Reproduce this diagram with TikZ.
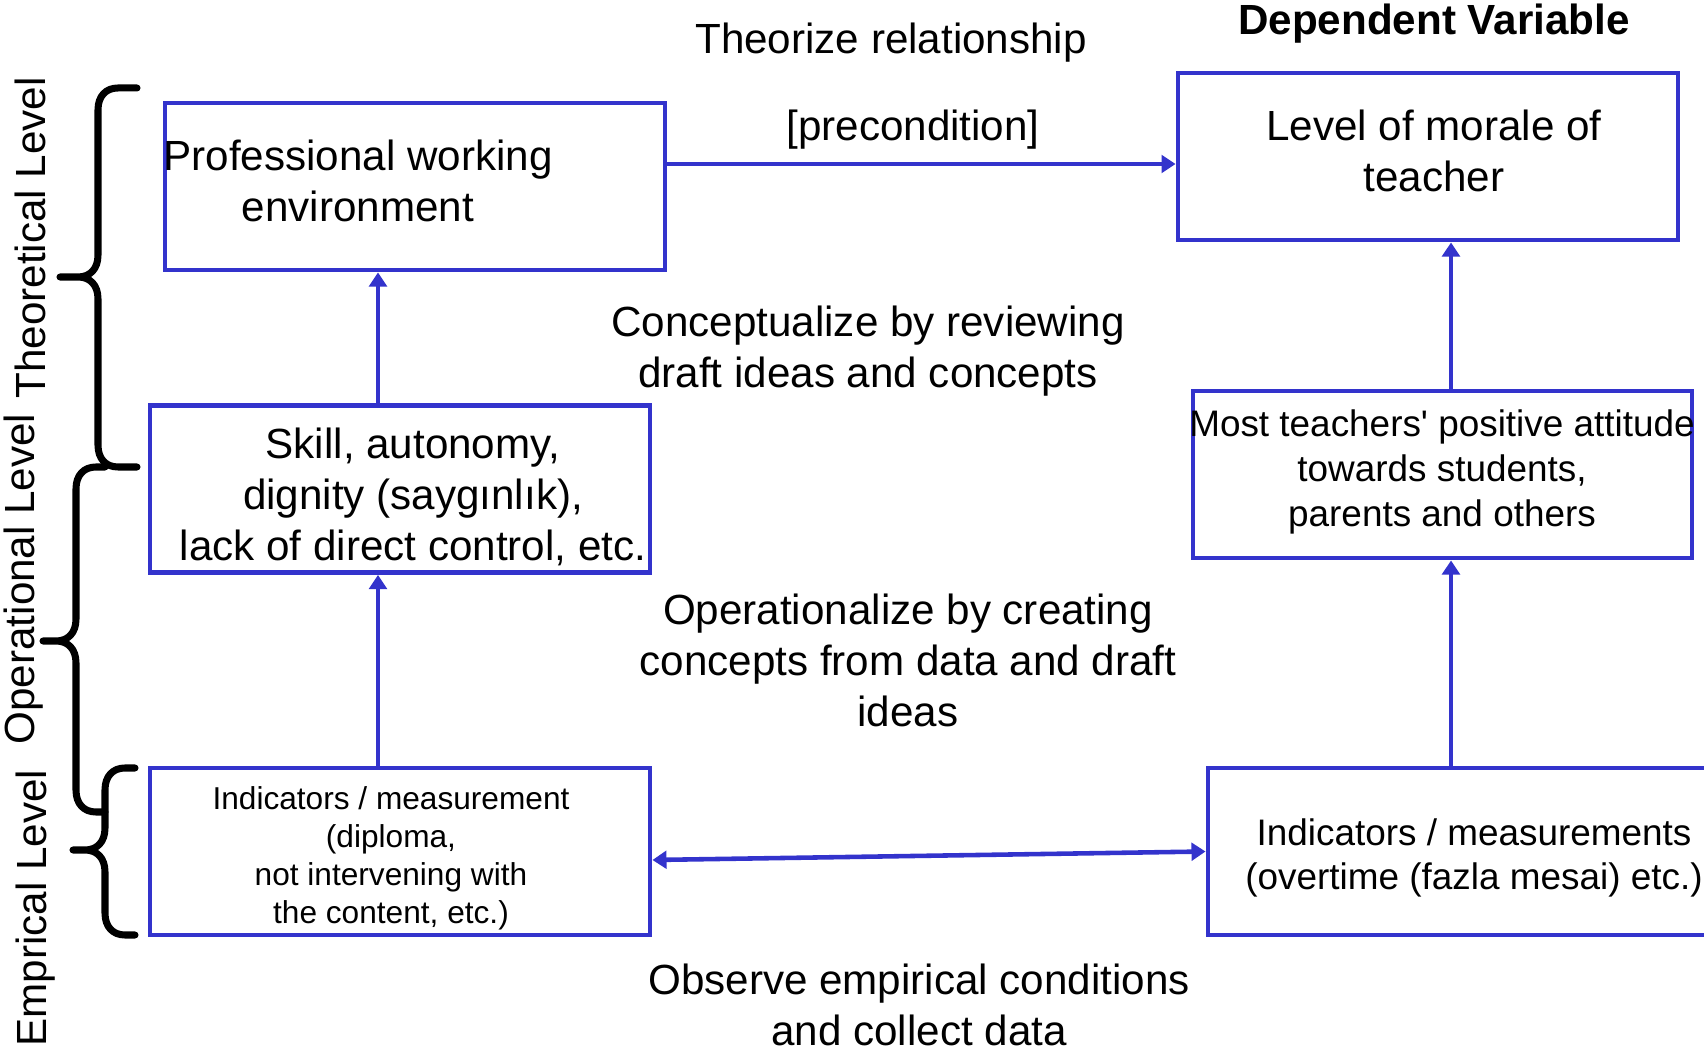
\documentclass[tikz,border=0pt]{standalone}
\usepackage{fontspec}
\setmainfont{Liberation Sans}
\usetikzlibrary{arrows.meta}
\definecolor{linkblue}{RGB}{51,51,204}

\begin{document}
\begin{tikzpicture}
	\tikzstyle{box} = [draw=linkblue, line width=1.4pt, inner sep=0pt, minimum height=1.67cm]
	\tikzstyle{txt} = [align=center, inner sep=0pt, font=\fontsize{12}{14.5}\selectfont]
	\tikzstyle{small} = [align=center, inner sep=0pt, font=\fontsize{9}{10.8}\selectfont]
	\tikzstyle{mid} = [align=center, inner sep=0pt, font=\fontsize{10.5}{12.7}\selectfont]
	\tikzstyle{link} = [draw=linkblue, line width=1.3pt, -{Triangle[length=4pt,width=5pt]}]
	\tikzstyle{curly} = [draw, line width=2pt, line join=round, line cap=round]
	\useasboundingbox (0,0) rectangle (17.04,-10.52);
	\clip (0,0) rectangle (17.04,-10.52);
	\coordinate (colL) at (3.78,0);
	\coordinate (colR) at (14.51,0);
	\node[box, minimum width=5cm] (P) at (4.15,-1.865) {};
	\node[box, minimum width=5cm] (S) at (4.00,-4.89) {};
	\node[box, minimum width=5cm] (I1) at (4.00,-8.515) {};
	\node[box, minimum width=5cm] (L) at (14.28,-1.565) {};
	\node[box, minimum width=4.99cm] (M) at (14.425,-4.745) {};
	\node[box, minimum width=5.52cm] (I2) at (14.84,-8.515) {};
	\node[txt] (Ptext) at (3.58,-1.81) {Professional working\\environment};
	\node[txt] (Stext) at (4.13,-4.97) {Skill, autonomy,\\dignity (saygınlık),\\lack of direct control, etc.};
	\node[small] (I1text) at (3.91,-8.58) {Indicators / measurement\\(diploma,\\not intervening with\\the content, etc.)};
	\node[txt] (Ltext) at (14.34,-1.51) {Level of morale of\\teacher};
	\node[mid] (Mtext) at (14.42,-4.72) {Most teachers\textquotesingle{} positive attitude\\towards students,\\parents and others};
	\node[mid] (I2text) at (14.74,-8.58) {Indicators / measurements\\(overtime (fazla mesai) etc.)};
	\node[txt] (theorize) at (8.91,-0.43) {Theorize relationship};
	\node[txt, font=\fontsize{12}{14.5}\selectfont\bfseries] (dep) at (14.34,-0.24) {Dependent Variable};
	\node[txt] (precond) at (9.13,-1.30) {[precondition]};
	\node[txt] (concept) at (8.68,-3.51) {Conceptualize by reviewing\\draft ideas and concepts};
	\node[txt] (oper) at (9.08,-6.60) {Operationalize by creating\\concepts from data and draft\\ideas};
	\node[txt] (observe) at (9.19,-10.05) {Observe empirical conditions\\and collect data};
	\node[txt, rotate=90] (theo) at (0.30,-2.38) {Theoretical Level};
	\node[txt, rotate=90] (opl) at (0.24,-5.79) {Operational Level};
	\node[txt, rotate=90] (emp) at (0.36,-9.08) {Emprical Level};
	\draw[curly] (1.37,-0.88) -- (1.18,-0.88) .. controls (1.06,-0.88) and (0.98,-0.96) .. (0.98,-1.10) -- (0.98,-2.55) .. controls (0.98,-2.69) and (0.90,-2.77) .. (0.78,-2.77) -- (0.60,-2.77) -- (0.78,-2.77) .. controls (0.90,-2.77) and (0.98,-2.85) .. (0.98,-2.99) -- (0.98,-4.45) .. controls (0.98,-4.59) and (1.06,-4.67) .. (1.18,-4.67) -- (1.37,-4.67);
	\draw[curly] (1.05,-4.67) -- (0.96,-4.67) .. controls (0.84,-4.67) and (0.76,-4.75) .. (0.76,-4.89) -- (0.76,-6.19) .. controls (0.76,-6.33) and (0.68,-6.41) .. (0.56,-6.41) -- (0.43,-6.41) -- (0.56,-6.41) .. controls (0.68,-6.41) and (0.76,-6.49) .. (0.76,-6.63) -- (0.76,-7.90) .. controls (0.76,-8.04) and (0.84,-8.12) .. (0.96,-8.12) -- (1.05,-8.12);
	\draw[curly] (1.35,-7.68) -- (1.25,-7.68) .. controls (1.13,-7.68) and (1.05,-7.76) .. (1.05,-7.90) -- (1.05,-8.28) .. controls (1.05,-8.42) and (0.97,-8.50) .. (0.85,-8.50) -- (0.73,-8.50) -- (0.85,-8.50) .. controls (0.97,-8.50) and (1.05,-8.58) .. (1.05,-8.72) -- (1.05,-9.13) .. controls (1.05,-9.27) and (1.13,-9.35) .. (1.25,-9.35) -- (1.35,-9.35);
	\draw[link] ([yshift=0.225cm]P.east) -- ([yshift=0.225cm]P.east -| L.west);
	\draw[link] (S.north -| colL) -- (P.south -| colL);
	\draw[link] (I1.north -| colL) -- (S.south -| colL);
	\draw[link] (M.north -| colR) -- (L.south -| colR);
	\draw[link] (I2.north -| colR) -- (M.south -| colR);
	\draw[link, {Triangle[length=4pt,width=5pt]}-{Triangle[length=4pt,width=5pt]}] ([yshift=-0.085cm]I1.east) -- (I2.west);
\end{tikzpicture}
\end{document}
